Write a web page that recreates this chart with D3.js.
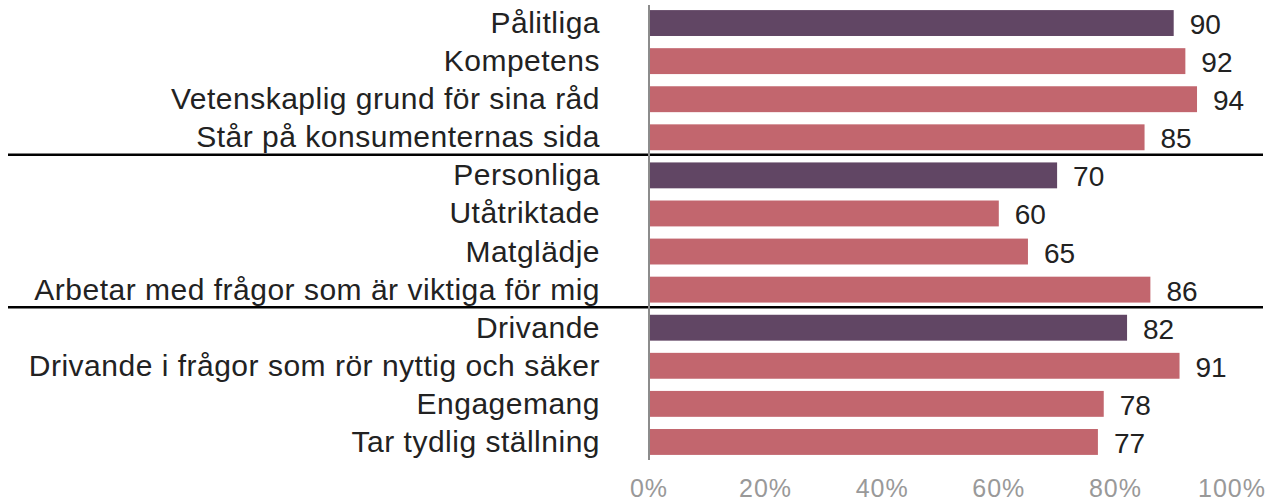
<!DOCTYPE html>
<html>
<head>
  <meta charset="utf-8">
  <script src="https://cdnjs.cloudflare.com/ajax/libs/d3/7.8.5/d3.min.js"></script>
  <title>Bar chart</title>
  <style>
    body { margin: 0; background: #fff; }
    text { font-family: "Liberation Sans", Arial, sans-serif; }
  </style>
</head>
<body>
<script>
const labels = [
  "Pålitliga", "Kompetens", "Vetenskaplig grund för sina råd", "Står på konsumenternas sida",
  "Personliga", "Utåtriktade", "Matglädje", "Arbetar med frågor som är viktiga för mig",
  "Drivande", "Drivande i frågor som rör nyttig och säker", "Engagemang", "Tar tydlig ställning"
];
const values = [90, 92, 94, 85, 70, 60, 65, 86, 82, 91, 78, 77];
// group headers get the dark colour
const isHeader = [true, false, false, false, true, false, false, false, true, false, false, false];
const tickValues = [0, 20, 40, 60, 80, 100];

const W = 1266, H = 503;
const svg = d3.select("body").append("svg")
    .attr("width", W)
    .attr("height", H);

const x = d3.scaleLinear().domain([0, 100]).range([649, 1232]);
const y = d3.scaleBand().domain(labels).range([4, 461])
    .paddingInner(0.32).paddingOuter(0.16);

// bars
svg.selectAll("rect.bar")
  .data(labels)
  .enter().append("rect")
    .attr("class", "bar")
    .attr("x", x(0))
    .attr("y", d => y(d))
    .attr("width", (d, i) => x(values[i]) - x(0))
    .attr("height", y.bandwidth())
    .attr("fill", (d, i) => isHeader[i] ? "#614664" : "#c2666e");

// value labels
svg.selectAll("text.val")
  .data(labels)
  .enter().append("text")
    .attr("class", "val")
    .attr("x", (d, i) => x(values[i]) + 16)
    .attr("y", d => y(d) + y.bandwidth() / 2 + 11)
    .attr("font-size", "28px")
    .attr("fill", "#222")
    .text((d, i) => values[i]);

// category labels
svg.selectAll("text.cat")
  .data(labels)
  .enter().append("text")
    .attr("class", "cat")
    .attr("x", 600)
    .attr("y", d => y(d) + y.bandwidth() / 2 + 10)
    .attr("text-anchor", "end")
    .attr("font-size", "30px")
    .attr("letter-spacing", "0.5px")
    .attr("fill", "#222")
    .text(d => d);

// group separators
[4, 8].forEach(function(k) {
  const yy = (y(labels[k - 1]) + y.bandwidth() + y(labels[k])) / 2 - 1.5;
  svg.append("line")
    .attr("x1", 8).attr("x2", 1263)
    .attr("y1", yy).attr("y2", yy)
    .attr("stroke", "#000")
    .attr("stroke-width", 2.5);
});

// vertical axis line
svg.append("line")
  .attr("x1", x(0)).attr("x2", x(0))
  .attr("y1", 5).attr("y2", 460)
  .attr("stroke", "#8c8c8c")
  .attr("stroke-width", 2);

// x axis tick labels
svg.selectAll("text.tick")
  .data(tickValues)
  .enter().append("text")
    .attr("class", "tick")
    .attr("x", d => x(d))
    .attr("y", 497)
    .attr("text-anchor", "middle")
    .attr("font-size", "25px")
    .attr("letter-spacing", "1px")
    .attr("fill", "#999")
    .text(d => d + "%");
</script>
</body>
</html>
